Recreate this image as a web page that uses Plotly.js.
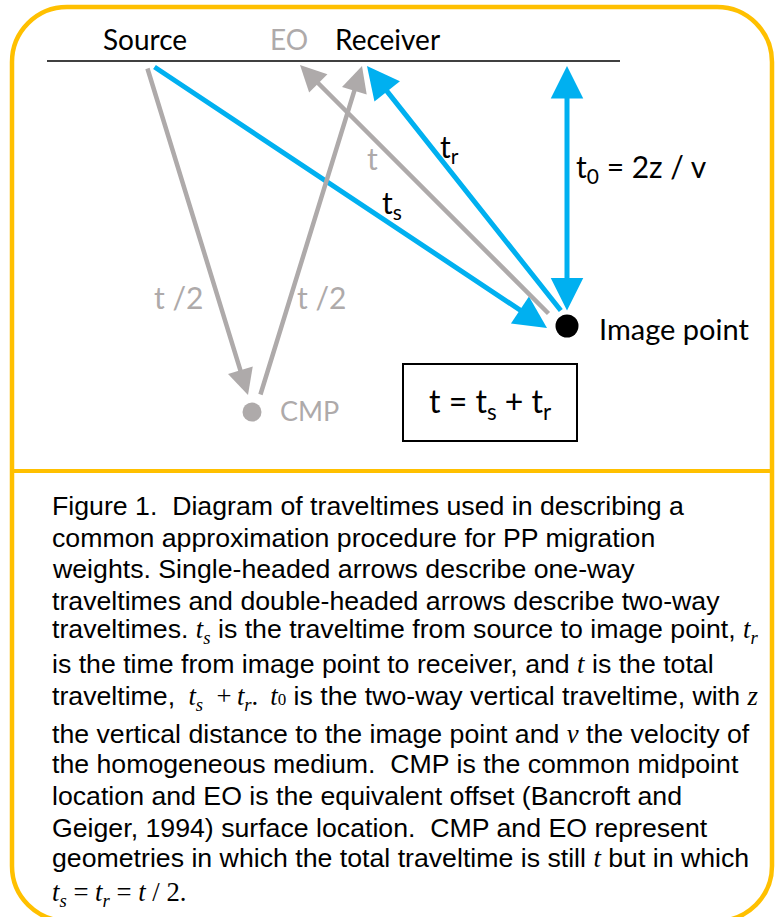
<!DOCTYPE html>
<html>
<head>
<meta charset="utf-8">
<script src="https://cdn.plot.ly/plotly-3.0.1.min.js"></script>
<style>html,body{margin:0;padding:0;background:#fff;}#chart{width:776px;height:917px;}</style>
</head>
<body>
<div id="chart"></div>
<script>
// ---- data ----
const pointNames = ['Image point', 'CMP'];
const pointX = [567, 252];
const pointY = [326, 412];

// arrows: tail (from) -> head (to)
const arrowNames = ['ts', 'tr', 't (EO)', 't/2 down', 't/2 up', 't0'];
const arrowFromX = [153, 562, 550, 147, 260, 567];
const arrowFromY = [66, 312, 315, 67, 396, 312];
const arrowToX   = [547, 367, 300, 248, 362, 567];
const arrowToY   = [328, 66, 65, 395, 66, 66];
const arrowColorKey = ['blue', 'blue', 'gray', 'gray', 'gray', 'blue'];
const arrowDouble = [false, false, false, false, false, true];

const labelTexts = ['Source', 'EO', 'Receiver', 't<sub>r</sub>', 't', 't<sub>s</sub>',
  't<sub>0</sub> = 2z / v', 't /2', 't /2', 'CMP', 'Image point', 't = t<sub>s</sub> + t<sub>r</sub>'];
const labelX = [145, 289, 387, 449, 372, 392, 641, 178, 321, 309, 597, 490];
const labelY = [39, 39, 39, 148, 158, 204, 168, 297, 297, 410, 328, 403];
const labelColorKey = ['black', 'gray', 'black', 'black', 'gray', 'black', 'black', 'gray', 'gray', 'gray', 'black', 'black'];
const labelSize = [28, 28, 28, 30, 30, 30, 30, 30, 30, 27, 29, 32];
const labelAnchor = ['center', 'center', 'center', 'center', 'center', 'center', 'center', 'center', 'center', 'center', 'left', 'center'];

const S = '<span style="font-family:Liberation Serif">';
const E = '</span>';
const captionLines = [
  'Figure 1.\u00a0 Diagram of traveltimes used in describing a',
  'common approximation procedure for PP migration',
  'weights. Single-headed arrows describe one-way',
  'traveltimes and double-headed arrows describe two-way',
  'traveltimes. ' + S + '<i>t<sub>s</sub></i>' + E + ' is the traveltime from source to image point, ' + S + '<i>t<sub>r</sub></i>' + E,
  'is the time from image point to receiver, and ' + S + '<i>t</i>' + E + ' is the total',
  'traveltime,\u2002' + S + '<i>t<sub>s</sub></i>\u2002+\u2009<i>t<sub>r</sub></i>.\u2009 <i>t</i><span style="font-size:17px">0</span>' + E + ' is the two-way vertical traveltime, with ' + S + '<i>z</i>' + E,
  'the vertical distance to the image point and ' + S + '<i>v</i>' + E + ' the velocity of',
  'the homogeneous medium.\u00a0 CMP is the common midpoint',
  'location and EO is the equivalent offset (Bancroft and',
  'Geiger, 1994) surface location.\u00a0 CMP and EO represent',
  'geometries in which the total traveltime is still ' + S + '<i>t</i>' + E + ' but in which',
  S + '<i>t<sub>s</sub></i> = <i>t<sub>r</sub></i> = <i>t</i> / 2.' + E
];
const captionBaselines = [515, 547, 578, 610, 640, 673, 707, 743, 773, 805, 837, 867, 903];

// ---- styles ----
const COLORS = {blue: '#00B0F0', gray: '#AEAAAA', black: '#000000', orange: '#FFC000'};
const W = 776, H = 917;

const annotations = [];
for (let i = 0; i < arrowNames.length; i++) {
  const blue = arrowColorKey[i] === 'blue';
  annotations.push({
    x: arrowToX[i], y: arrowToY[i], ax: arrowFromX[i], ay: arrowFromY[i],
    xref: 'x', yref: 'y', axref: 'x', ayref: 'y',
    text: '', showarrow: true, arrowhead: 2, startarrowhead: 2,
    arrowside: arrowDouble[i] ? 'end+start' : 'end',
    arrowsize: blue ? 1.3 : 1.15, startarrowsize: 1.3,
    arrowwidth: blue ? 5 : 4.5,
    arrowcolor: COLORS[arrowColorKey[i]], standoff: 0, startstandoff: 0
  });
}
for (let i = 0; i < labelTexts.length; i++) {
  annotations.push({
    x: labelX[i], y: labelY[i], xref: 'x', yref: 'y', text: labelTexts[i],
    showarrow: false, xanchor: labelAnchor[i], yanchor: 'middle',
    font: {family: 'Lato, Carlito, sans-serif', size: labelSize[i], color: COLORS[labelColorKey[i]]}
  });
}
const capFont = 26.7;
for (let i = 0; i < captionLines.length; i++) {
  annotations.push({
    x: 50, y: captionBaselines[i] - 0.35 * capFont, xref: 'x', yref: 'y', text: captionLines[i],
    showarrow: false, xanchor: 'left', yanchor: 'middle', align: 'left',
    font: {family: 'Liberation Sans, Arial, sans-serif', size: capFont, color: '#000'}
  });
}

// rounded border path
const bl = 12, bt = 7, br = 772, bb = 921, r = 55, k = 0.5523 * r;
const borderPath = [
  'M', bl + r, bt, 'L', br - r, bt,
  'C', br - r + k, bt, br, bt + r - k, br, bt + r,
  'L', br, bb - r,
  'C', br, bb - r + k, br - r + k, bb, br - r, bb,
  'L', bl + r, bb,
  'C', bl + r - k, bb, bl, bb - r + k, bl, bb - r,
  'L', bl, bt + r,
  'C', bl, bt + r - k, bl + r - k, bt, bl + r, bt, 'Z'
].join(' ');

const shapes = [
  {type: 'path', path: borderPath, xref: 'x', yref: 'y', line: {color: COLORS.orange, width: 4.5}},
  {type: 'line', x0: bl, x1: br, y0: 471, y1: 471, xref: 'x', yref: 'y', line: {color: COLORS.orange, width: 4}},
  {type: 'line', x0: 47, x1: 620, y0: 61, y1: 61, xref: 'x', yref: 'y', line: {color: '#000', width: 1.5}},
  {type: 'rect', x0: 403, x1: 577, y0: 364, y1: 441, xref: 'x', yref: 'y', line: {color: '#000', width: 2}}
];

const trace = {
  type: 'scatter', mode: 'markers', x: pointX, y: pointY, text: pointNames, hoverinfo: 'text',
  opacity: 1,
  marker: {size: [23, 19], color: [COLORS.black, COLORS.gray], opacity: 1, line: {width: 0}}
};

const layout = {
  width: W, height: H, margin: {l: 0, r: 0, t: 0, b: 0},
  paper_bgcolor: '#fff', plot_bgcolor: '#fff', showlegend: false,
  xaxis: {range: [0, W], visible: false, fixedrange: true},
  yaxis: {range: [H, 0], visible: false, fixedrange: true},
  shapes: shapes, annotations: annotations
};

Plotly.newPlot('chart', [trace], layout, {displayModeBar: false, staticPlot: true});
</script>
</body>
</html>
